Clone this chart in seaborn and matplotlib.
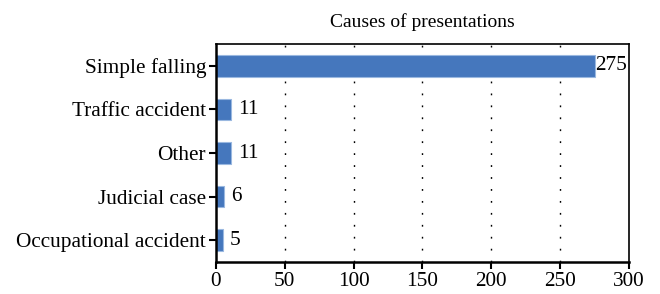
import matplotlib
matplotlib.use("Agg")
import matplotlib.pyplot as plt
import seaborn as sns
import pandas as pd

# --- Data ---
causes = ["Simple falling", "Traffic accident", "Other", "Judicial case", "Occupational accident"]
counts = [275, 11, 11, 6, 5]
x_ticks = [0, 50, 100, 150, 200, 250, 300]

df = pd.DataFrame({"cause": causes, "count": counts})

sns.set_theme(style="white")
plt.rcParams["font.family"] = ["Liberation Serif", "DejaVu Serif"]

fig = plt.figure(figsize=(6.6, 2.94), dpi=100)
ax = fig.add_axes([0.327, 0.109, 0.626, 0.741])

sns.barplot(data=df, y="cause", x="count", orient="h", color="#4577bd",
            edgecolor="#9ab8e0", linewidth=0.8, width=0.5, saturation=1, ax=ax)

# value labels at bar ends
for i, c in enumerate(counts):
    pad = 0.5 if c > 100 else 5
    ax.annotate(str(c), xy=(c, i), xytext=(pad, 0), textcoords="offset points",
                va="center", ha="left", fontsize=15.3, color="black")

ax.set_xlim(0, 300)
ax.set_xticks(x_ticks)
for x in x_ticks[1:-1]:
    ax.axvline(x, color="black", linestyle=(0, (1.3, 7.3)), linewidth=1.0, zorder=0)

ax.set_xlabel("")
ax.set_ylabel("")
ax.set_title("Causes of presentations", fontsize=14, pad=12, color="black")
ax.tick_params(axis="both", labelsize=15.3, direction="out", length=5, width=1.5,
               color="black", labelcolor="black", left=True, bottom=True)
ax.tick_params(axis="y", pad=2)
ax.tick_params(axis="x", pad=2)
for s in ax.spines.values():
    s.set_color("black")
    s.set_linewidth(1.2)
ax.spines["left"].set_linewidth(1.8)
ax.spines["bottom"].set_linewidth(1.8)

fig.savefig("out.png", dpi=100)
